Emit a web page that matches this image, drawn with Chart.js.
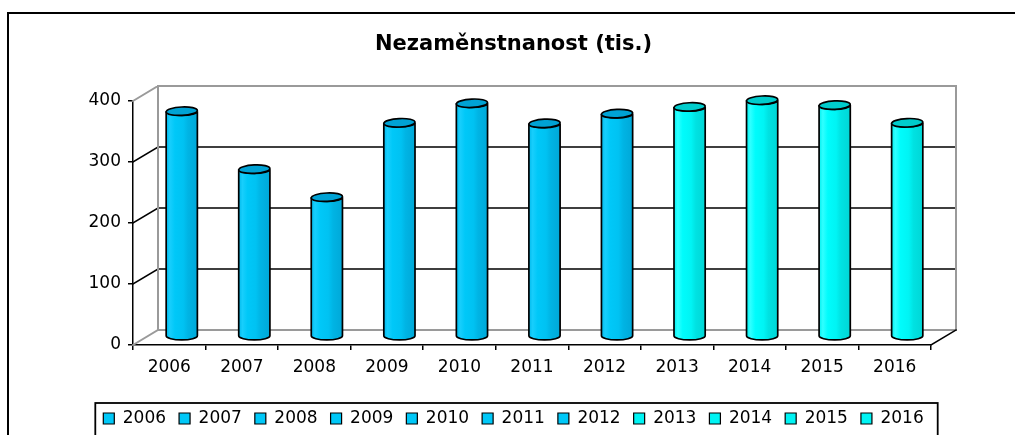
<!DOCTYPE html>
<html><head><meta charset="utf-8">
<script src="https://cdn.jsdelivr.net/npm/chart.js@4/dist/chart.umd.min.js"></script>
<style>html,body{margin:0;padding:0;background:#fff;overflow:hidden}canvas{display:block}</style>
</head><body>
<canvas id="c" width="1015" height="435"></canvas>
<script>
// ---- data ----
const categories = ['2006','2007','2008','2009','2010','2011','2012','2013','2014','2015','2016'];
const values = [371, 276, 230, 352, 384, 351, 367, 378, 389, 381, 352];
const colorGroup = ['blue','blue','blue','blue','blue','blue','blue','cyan','cyan','cyan','cyan'];
const yTickValues = [0, 100, 200, 300, 400];
const titleText = 'Nezaměnstnanost (tis.)';

// ---- styles ----
const palette = {
  blue: {legend:'#00C8F8', top:'#00A2D4', stops:[[0,'#00BAEC'],[0.12,'#18CEFC'],[0.28,'#00C8F8'],[0.55,'#00C2F2'],[0.7,'#00B4E4'],[1,'#00A8D8']]},
  cyan: {legend:'#00F4F4', top:'#00CCCC', stops:[[0,'#00F0F0'],[0.12,'#30FFFF'],[0.28,'#00FCFC'],[0.55,'#00F4F4'],[0.7,'#00E2E2'],[1,'#00D6D6']]}
};
const DX = 25, DY = 15;
const FONT = 'DejaVu Sans';

const wallsPlugin = {
  id: 'walls',
  beforeDatasetsDraw(chart) {
    const {ctx, chartArea: a, scales: {x, y}} = chart;
    const L = a.left, R = a.right;
    const T = y.getPixelForValue(yTickValues[yTickValues.length-1]);
    const B = y.getPixelForValue(0);
    ctx.save();
    ctx.lineCap = 'square';
    ctx.strokeStyle = '#000'; ctx.lineWidth = 1.5;
    yTickValues.slice(1, -1).forEach(v => {
      const py = y.getPixelForValue(v);
      ctx.beginPath();
      ctx.moveTo(L, py); ctx.lineTo(L+DX, py-DY); ctx.lineTo(R+DX, py-DY);
      ctx.stroke();
    });
    ctx.strokeStyle = '#9a9a9a'; ctx.lineWidth = 2;
    ctx.beginPath();
    ctx.moveTo(L, T); ctx.lineTo(L+DX, T-DY); ctx.lineTo(R+DX, T-DY); ctx.lineTo(R+DX, B-DY);
    ctx.lineTo(L+DX, B-DY); ctx.lineTo(L, B);
    ctx.moveTo(L+DX, T-DY); ctx.lineTo(L+DX, B-DY);
    ctx.stroke();
    ctx.strokeStyle = '#000'; ctx.lineWidth = 1.5;
    ctx.beginPath(); ctx.moveTo(R, B); ctx.lineTo(R+DX, B-DY); ctx.stroke();
    ctx.restore();
  },
  afterDatasetsDraw(chart) {
    const {ctx} = chart;
    const meta = chart.getDatasetMeta(0);
    ctx.save();
    meta.data.forEach((bar, i) => {
      const pal = palette[colorGroup[i]];
      const r = bar.width / 2;
      const cx = bar.x + DX/2;
      const topY = bar.y - DY/2;
      const baseY = bar.base - DY/2 - 1;
      const ry = 4.2;
      const g = ctx.createLinearGradient(cx - r, 0, cx + r, 0);
      pal.stops.forEach(s => g.addColorStop(s[0], s[1]));
      ctx.beginPath();
      ctx.moveTo(cx - r, topY);
      ctx.lineTo(cx - r, baseY);
      ctx.ellipse(cx, baseY, r, ry, 0, Math.PI, 0, true);
      ctx.lineTo(cx + r, topY);
      ctx.ellipse(cx, topY, r, ry, 0, 0, Math.PI, false);
      ctx.closePath();
      ctx.fillStyle = g; ctx.fill();
      ctx.strokeStyle = '#000'; ctx.lineWidth = 1.7; ctx.stroke();
      ctx.beginPath();
      ctx.ellipse(cx, topY, r, ry, -0.05, 0, Math.PI*2);
      ctx.fillStyle = pal.top; ctx.fill();
      ctx.stroke();
    });
    ctx.restore();
  },
  afterDraw(chart) {
    const {ctx} = chart;
    ctx.save();
    ctx.strokeStyle = '#000'; ctx.lineWidth = 2;
    ctx.strokeRect(8, 13, 1200, 600);
    const lg = chart.legend;
    const hb = lg.legendHitBoxes;
    if (hb && hb.length) {
      const l = hb[0].left - 8, rr = hb[hb.length-1].left + hb[hb.length-1].width + 14;
      ctx.lineWidth = 1.8;
      ctx.strokeRect(l, lg.top + 6, rr - l, 200);
    }
    ctx.restore();
  }
};

new Chart(document.getElementById('c'), {
  type: 'bar',
  data: {
    labels: categories,
    datasets: [{
      label: 'Nezaměstnanost',
      data: values,
      backgroundColor: 'rgba(0,0,0,0)',
      borderWidth: 0,
      categoryPercentage: 1,
      barPercentage: 0.43
    }]
  },
  options: {
    responsive: false,
    animation: false,
    devicePixelRatio: 1,
    layout: {padding: {left: 12, right: 0, top: 0, bottom: -2}},
    plugins: {
      tooltip: {enabled: false},
      title: {
        display: true, text: titleText, color: '#000',
        font: {family: FONT, size: 21, weight: 'bold', lineHeight: 1.2},
        padding: {top: 32.4, bottom: 43.4}
      },
      legend: {
        display: true, position: 'bottom',
        labels: {
          color: '#000', font: {family: FONT, size: 17},
          boxWidth: 11, boxHeight: 11, padding: 13,
          generateLabels: () => categories.map((c, i) => ({
            text: c, fillStyle: palette[colorGroup[i]].legend, strokeStyle: '#000',
            lineWidth: 1.2, hidden: false, index: i
          }))
        }
      }
    },
    scales: {
      x: {
        grid: {drawOnChartArea: false, drawTicks: true, tickLength: 5, color: '#000', lineWidth: 1.5},
        border: {display: true, color: '#000', width: 1.5},
        ticks: {color: '#000', font: {family: FONT, size: 17}, padding: 7, maxRotation: 0},
        afterFit(s) { s.height = 52; }
      },
      y: {
        min: 0, max: 400,
        grid: {drawOnChartArea: false, drawTicks: true, tickLength: 5, color: '#000', lineWidth: 1.5},
        border: {display: true, color: '#000', width: 1.5},
        ticks: {stepSize: 100, color: '#000', font: {family: FONT, size: 17}, padding: 7},
        afterFit(s) { s.width = 121; }
      },
      y2: {
        position: 'right', display: true, min: 0, max: 400,
        grid: {display: false, drawTicks: false}, border: {display: false},
        ticks: {display: false},
        afterFit(s) { s.width = 84; }
      }
    }
  },
  plugins: [wallsPlugin]
});
</script>
</body></html>
